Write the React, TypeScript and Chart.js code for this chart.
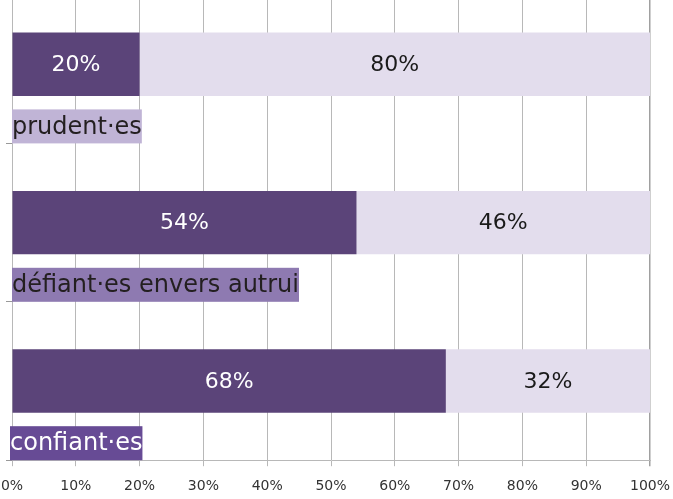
import React, { useEffect, useRef } from "react";
import { Chart, registerables } from "chart.js";

Chart.register(...registerables);

const categories = ["prudent·es", "défiant·es envers autrui", "confiant·es"];
const darkValues = [20, 54, 68];
const lightValues = [80, 46, 32];
const xTicks = [0, 10, 20, 30, 40, 50, 60, 70, 80, 90, 100];

const labelBoxColors = ["#c0b4d6", "#8e7ab1", "#674b95"];
const labelTextColors = ["#231f20", "#231f20", "#ffffff"];
const FONT = "'DejaVu Sans', sans-serif";

const labelPlugin = {
  id: "customLabels",
  afterDatasetsDraw(chart: any) {
    const ctx = chart.ctx;
    ctx.save();
    // value labels
    chart.data.datasets.forEach((ds: any, di: number) => {
      const meta = chart.getDatasetMeta(di);
      meta.data.forEach((bar: any, i: number) => {
        const cx = (bar.x + bar.base) / 2;
        ctx.font = `22px ${FONT}`;
        ctx.fillStyle = di === 0 ? "#ffffff" : "#1a1a1a";
        ctx.textAlign = "center";
        ctx.textBaseline = "middle";
        ctx.fillText(`${ds.data[i]}%`, cx, bar.y + 1);
      });
    });
    // category labels
    const yScale = chart.scales.y;
    const band = (yScale.bottom - yScale.top) / categories.length;
    categories.forEach((cat, i) => {
      const bottom = yScale.getPixelForValue(i) + band / 2;
      ctx.font = `24px ${FONT}`;
      const w = ctx.measureText(cat).width;
      const h = 34;
      const left = chart.chartArea.left + (i === 2 ? -2 : 0);
      ctx.fillStyle = labelBoxColors[i];
      ctx.fillRect(left, bottom - h, w, h);
      ctx.fillStyle = labelTextColors[i];
      ctx.textAlign = "left";
      ctx.textBaseline = "middle";
      ctx.fillText(cat, left, bottom - h / 2 + 1);
    });
    ctx.restore();
  },
};

export default function App() {
  const ref = useRef<HTMLCanvasElement>(null);
  useEffect(() => {
    if (!ref.current) return;
    const chart = new Chart(ref.current, {
      type: "bar",
      data: {
        labels: categories,
        datasets: [
          {
            label: "a",
            data: darkValues,
            backgroundColor: "#5b4479",
            barPercentage: 0.4,
            categoryPercentage: 1,
          },
          {
            label: "b",
            data: lightValues,
            backgroundColor: "#e3dded",
            barPercentage: 0.4,
            categoryPercentage: 1,
          },
        ],
      },
      options: {
        indexAxis: "y",
        responsive: false,
        animation: false,
        layout: { padding: { top: 0, left: 6, right: 23, bottom: 0 } },
        plugins: { legend: { display: false }, tooltip: { enabled: false } },
        scales: {
          x: {
            stacked: true,
            min: 0,
            max: 100,
            afterFit(scale: any) {
              scale.paddingLeft = 0;
              scale.paddingRight = 0;
            },
            afterBuildTicks(scale: any) {
              scale.ticks = xTicks.map((v) => ({ value: v }));
            },
            ticks: {
              callback: (v: any) => `${v}%`,
              font: { family: FONT, size: 14 },
              color: "#333333",
              padding: 12,
              maxRotation: 0,
              autoSkip: false,
            },
            grid: {
              color: (c: any) => (c.tick && c.tick.value === 100 ? "#a0a0a0" : "#b8b8b8"),
              lineWidth: (c: any) => (c.tick && c.tick.value === 100 ? 1.5 : 1),
              tickLength: 6,
            },
            border: { color: "#b8b8b8" },
          },
          y: {
            stacked: true,
            ticks: { display: false },
            grid: {
              drawOnChartArea: false,
              tickLength: 6,
              color: "#999999",
              offset: true,
            },
            border: { display: false },
          },
        },
      },
      plugins: [labelPlugin],
    });
    return () => chart.destroy();
  }, []);
  return (
    <div style={{ position: "absolute", left: 0, top: 0, width: 673, height: 499, overflow: "hidden", background: "#fff" }}>
      <canvas
        ref={ref}
        width={673}
        height={522}
        style={{ display: "block", position: "absolute", left: 0, top: -15 }}
      />
    </div>
  );
}
